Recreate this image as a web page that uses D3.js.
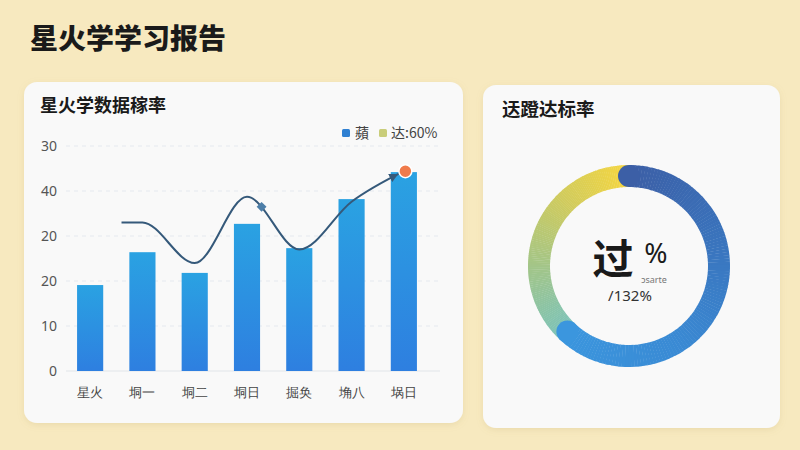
<!DOCTYPE html>
<html><head><meta charset="utf-8">
<script src="https://cdn.jsdelivr.net/npm/d3@7"></script>
<style>body{margin:0;background:#f7e9bf;}svg{display:block;font-family:"Noto Sans CJK SC","Noto Sans",sans-serif;}</style>
</head><body><svg id="c" width="800" height="450"></svg>
<script>
const categories = ["星火","垌一","垌二","垌日","掘奂","埆八","埚日"];
const barValues = [19.1, 26.4, 21.8, 32.7, 27.3, 38.2, 44.2];
const lineValues = [null, 33.0, 24.0, 38.7, 27.0, 37.6, 44.4];
const tickValues = [0, 10, 20, 30, 40, 50];
const tickLabels = ["0", "10", "20", "20", "40", "30"];
const legendLabels = ["蘋", "达:60%"];
const donutValues = [62, 38];
const centerMain = "过", centerPct = "%", centerSmall = "ɔsarte", centerSub = "/132%";

const svg = d3.select("#c");
const defs = svg.append("defs");
const sh = defs.append("filter").attr("id","sh").attr("x","-10%").attr("y","-10%").attr("width","120%").attr("height","130%");
sh.append("feDropShadow").attr("dx",0).attr("dy",2).attr("stdDeviation",3).attr("flood-color","#b09a5a").attr("flood-opacity",0.18);
const bg = defs.append("linearGradient").attr("id","bar").attr("x1",0).attr("y1",0).attr("x2",0).attr("y2",1);
bg.append("stop").attr("offset","0%").attr("stop-color","#2aa2e2");
bg.append("stop").attr("offset","100%").attr("stop-color","#2e7fe0");
defs.append("marker").attr("id","arr").attr("viewBox","0 0 10 10").attr("refX",17).attr("refY",5)
  .attr("markerWidth",9).attr("markerHeight",9).attr("markerUnits","userSpaceOnUse").attr("orient","auto")
  .append("path").attr("d","M0,0 L10,5 L0,10 z").attr("fill","#35597a");

svg.append("text").attr("x",30).attr("y",49).attr("font-size",28).attr("font-weight",900).attr("fill","#1a1a1a").text("星火学学习报告");

// cards
svg.append("rect").attr("x",24).attr("y",82).attr("width",439).attr("height",341).attr("rx",13).attr("fill","#f9f9f9").attr("filter","url(#sh)");
svg.append("rect").attr("x",483).attr("y",85).attr("width",297).attr("height",343).attr("rx",13).attr("fill","#f9f9f9").attr("filter","url(#sh)");

svg.append("text").attr("x",40).attr("y",112).attr("font-size",18).attr("font-weight",700).attr("fill","#1a1a1a").text("星火学数据稼率");
svg.append("text").attr("x",502).attr("y",116).attr("font-size",18.5).attr("font-weight",700).attr("fill","#1a1a1a").text("迗蹬达标率");

// scales
const x = d3.scaleBand().domain(categories).range([64,430]).paddingInner(0.5).paddingOuter(0.25);
const y = d3.scaleLinear().domain([0,50]).range([371,146]);

// grid
const g = svg.append("g");
g.selectAll(".grid").data(tickValues).join("line")
  .attr("x1",66).attr("x2",440).attr("y1",d=>y(d)).attr("y2",d=>y(d))
  .attr("stroke",d=>d===0?"#e2e6ea":"#e6eaef").attr("stroke-width",1.2).attr("stroke-dasharray",d=>d===0?null:"4,4");
const yAxis = d3.axisLeft(y).tickValues(tickValues).tickFormat((d,i)=>tickLabels[i]).tickSize(0).tickPadding(0);
const ya = svg.append("g").attr("transform","translate(57,0)").call(yAxis);
ya.select(".domain").remove();
ya.selectAll("text").attr("font-size",14).attr("fill","#555").attr("font-family","'Noto Sans',sans-serif");

// bars
svg.selectAll(".bar").data(barValues).join("rect")
  .attr("x",(d,i)=>x(categories[i])).attr("width",x.bandwidth())
  .attr("y",d=>y(d)).attr("height",d=>y(0)-y(d)).attr("fill","url(#bar)");

// x labels
const xAxis = d3.axisBottom(x).tickSize(0).tickPadding(0);
const xa = svg.append("g").attr("transform","translate(0,385)").call(xAxis);
xa.select(".domain").remove();
xa.selectAll("text").attr("font-size",13).attr("fill","#444").attr("dy","0.9em");

// line
const step = x.step();
const pts = [];
lineValues.forEach((v,i)=>{ if(v!=null){ const cx = x(categories[i])+x.bandwidth()/2; if(pts.length===0) pts.push([cx-step*0.4, y(v)]); pts.push([cx, y(v)]); }});
const lineGen = d3.line().curve(d3.curveMonotoneX);
const path = svg.append("path").attr("d",lineGen(pts)).attr("fill","none").attr("stroke","#35597a").attr("stroke-width",2).attr("marker-end","url(#arr)");
const pn = path.node(), L = pn.getTotalLength();
let best=null; for(let s=0;s<=L;s+=1){const p=pn.getPointAtLength(s); if(p.x>= x(categories[3])+x.bandwidth()/2+ step*0.27){best=p;break;}}
if(best) svg.append("rect").attr("x",best.x-3.5).attr("y",best.y-3.5).attr("width",7).attr("height",7).attr("fill","#4d7ea8").attr("transform",`rotate(45,${best.x},${best.y})`);
const last = pts[pts.length-1];
svg.append("circle").attr("cx",last[0]+1.5).attr("cy",last[1]).attr("r",6.5).attr("fill","#f07b4b").attr("stroke","#fff").attr("stroke-width",1.5);

// legend
const leg = svg.append("g");
leg.append("rect").attr("x",342).attr("y",129).attr("width",8).attr("height",8).attr("rx",1.5).attr("fill","#2f80d2");
leg.append("text").attr("x",355).attr("y",138).attr("font-size",14).attr("fill","#444").text(legendLabels[0]);
leg.append("rect").attr("x",379).attr("y",129).attr("width",8).attr("height",8).attr("rx",1.5).attr("fill","#c9cd7a");
leg.append("text").attr("x",391).attr("y",138).attr("font-size",14).attr("fill","#444").text(legendLabels[1]);

// donut
const cx0 = 629, cy0 = 266, rO = 101, rI = 79;
const dg = svg.append("g").attr("transform",`translate(${cx0},${cy0})`);
const pie = d3.pie().sort(null)(donutValues);
const arc = d3.arc().innerRadius(rI).outerRadius(rO);
function gradArc(a0,a1,interp){
  const n=120, seg=(a1-a0)/n;
  d3.range(n).forEach(k=>{
    dg.append("path").attr("d",arc({startAngle:a0+k*seg,endAngle:a0+(k+1)*seg+0.004})).attr("fill",interp(k/(n-1)));
  });
}
const restInterp = d3.piecewise(d3.interpolateRgb,["#7cc3ba","#a2c589","#cfcb5e","#f6d640"]);
const blueInterp = d3.piecewise(d3.interpolateRgb,["#3c5fa6","#3a74bd","#3a8ad4","#3b96de"]);
gradArc(pie[1].startAngle,pie[1].endAngle,restInterp);
gradArc(pie[0].startAngle,pie[0].endAngle,blueInterp);
const rm=(rO+rI)/2, cr=(rO-rI)/2;
[[pie[0].startAngle,"#3c5fa6"],[pie[0].endAngle,"#3b96de"]].forEach(([a,c])=>{
  dg.append("circle").attr("cx",rm*Math.sin(a)).attr("cy",-rm*Math.cos(a)).attr("r",cr).attr("fill",c);
});

svg.append("text").attr("x",613).attr("y",274).attr("text-anchor","middle").attr("font-size",41).attr("font-weight",700).attr("fill","#1a1a1a").text(centerMain);
svg.append("text").attr("x",656).attr("y",263).attr("text-anchor","middle").attr("font-size",28).attr("fill","#1a1a1a").attr("font-family","'Noto Sans',sans-serif").text(centerPct);
svg.append("text").attr("x",654).attr("y",283).attr("text-anchor","middle").attr("font-size",9).attr("fill","#777").attr("font-family","'Noto Sans',sans-serif").text(centerSmall);
svg.append("text").attr("x",630).attr("y",301).attr("text-anchor","middle").attr("font-size",15).attr("fill","#333").attr("font-family","'Noto Sans',sans-serif").text(centerSub);
</script></body></html>
